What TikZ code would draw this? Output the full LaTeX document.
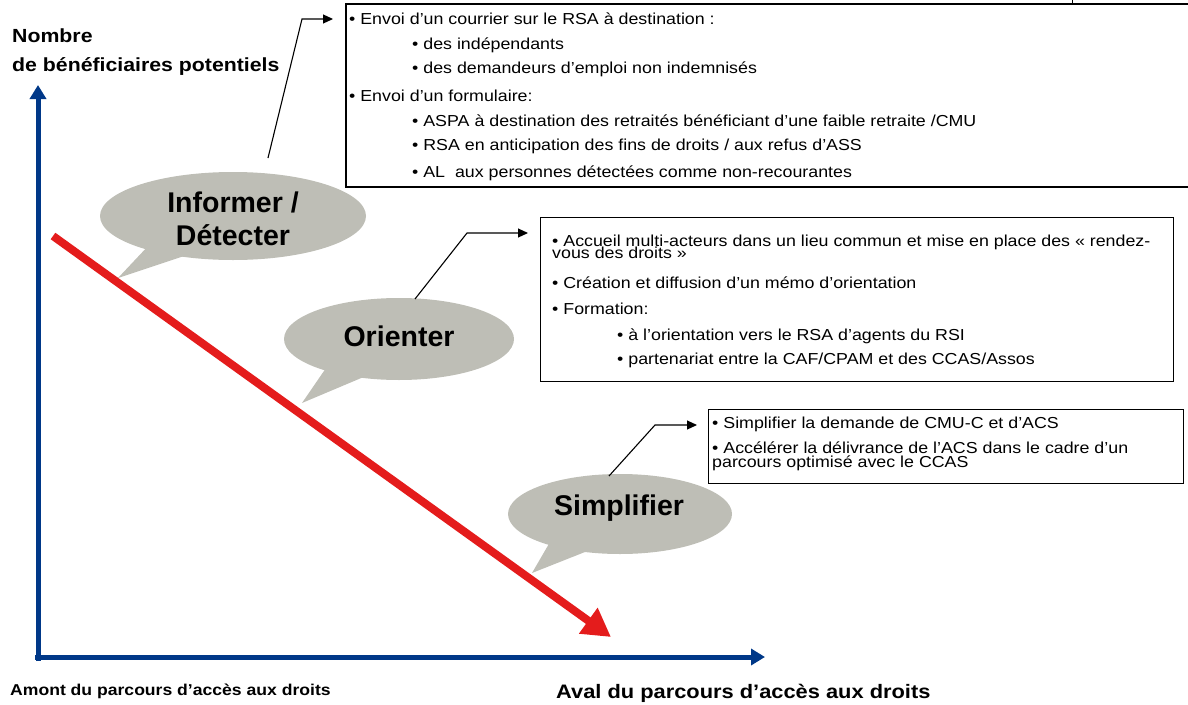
\documentclass[tikz,border=0pt]{standalone}
\usepackage{fontspec}
\setmainfont{Liberation Sans}
\newfontfamily\bxfont[FakeStretch=1.12]{Liberation Sans}
\usetikzlibrary{arrows.meta}
\definecolor{axisblue}{RGB}{0,56,136}
\definecolor{redarrow}{RGB}{228,28,28}
\definecolor{bubblegray}{RGB}{190,190,182}
\begin{document}
\begin{tikzpicture}[x=1pt,y=-1pt,
  axis/.style={draw=axisblue, line width=5pt, -{Triangle[width=16pt,length=14pt]}},
  trend/.style={draw=redarrow, line width=8pt, -{Triangle[width=30pt,length=28pt]}},
  bubble/.style={fill=bubblegray},
  bubbletext/.style={font=\fontsize{28.5}{33}\selectfont\bfseries, align=center, inner sep=0pt},
  infobox/.style={draw=black, line width=1.5pt, anchor=north west, inner sep=0pt},
  boxline/.style={font=\bxfont\fontsize{15.9}{18}\selectfont, anchor=base west, inner sep=0pt},
  callout/.style={draw=black, line width=1.1pt, -{Triangle[width=9pt,length=10pt]}},
  axislabel/.style={font=\bfseries, anchor=base west, inner sep=0pt}
]
\useasboundingbox (0,0) rectangle (1188,704);

% axes
\coordinate (ybase) at (38,661);
\coordinate (ytip) at (38,85);
\coordinate (xbase) at (35,657);
\coordinate (xtip) at (765,657);
\draw[axis] (ybase) -- (ytip);
\draw[axis] (xbase) -- (xtip);

% axis labels
\node[axislabel, font=\bxfont\bfseries\fontsize{19}{24}\selectfont] (ylab1) at (12,42) {Nombre};
\node[axislabel, font=\bxfont\bfseries\fontsize{19}{24}\selectfont] (ylab2) at (12,71) {de bénéficiaires potentiels};
\node[axislabel, font=\bxfont\bfseries\fontsize{15.7}{20}\selectfont] (xlab1) at (10,695) {Amont du parcours d’accès aux droits};
\node[axislabel, font=\bxfont\bfseries\fontsize{19.5}{24}\selectfont] (xlab2) at (556,698) {Aval du parcours d’accès aux droits};

% red trend arrow
\coordinate (rstart) at (53,236);
\coordinate (rtip) at (611,637);
\draw[trend] (rstart) -- (rtip);

% bubble 1
\fill[bubble] (233,216) ellipse [x radius=133, y radius=44];
\fill[bubble] (118,278) -- (150,244) -- (196,252) -- cycle;
\node[bubbletext] (b1) at (233,219) {Informer /\\Détecter};

% bubble 2
\fill[bubble] (399,339) ellipse [x radius=115, y radius=41];
\fill[bubble] (302,403) -- (326,368) -- (366,376) -- cycle;
\node[bubbletext] (b2) at (399,336) {Orienter};

% bubble 3
\fill[bubble] (620,514) ellipse [x radius=112, y radius=40];
\fill[bubble] (532,573) -- (550,542) -- (590,550) -- cycle;
\node[bubbletext] (b3) at (619,508) {Simplifier};

% box 1
\node[infobox, minimum width=846pt, minimum height=183pt] (box1) at (345,3) {};
\draw[line width=1pt] (1072,0) -- (1072,3);
\node[boxline] (l11) at (349,24) {• Envoi d’un courrier sur le RSA à destination :};
\node[boxline] (l12) at (412,49) {• des indépendants};
\node[boxline] (l13) at (412,73) {• des demandeurs d’emploi non indemnisés};
\node[boxline] (l14) at (349,101) {• Envoi d’un formulaire:};
\node[boxline] (l15) at (412,126) {• ASPA à destination des retraités bénéficiant d’une faible retraite /CMU};
\node[boxline] (l16) at (412,150) {• RSA en anticipation des fins de droits / aux refus d’ASS};
\node[boxline] (l17) at (412,177) {• AL\ \ aux personnes détectées comme non-recourantes};

% box 2
\node[infobox, line width=1.2pt, minimum width=633pt, minimum height=164pt] (box2) at (540,217) {};
\node[boxline] (l21) at (552,246) {• Accueil multi-acteurs dans un lieu commun et mise en place des «\ rendez-};
\node[boxline] (l22) at (552,258.5) {vous des droits\ »};
\node[boxline] (l23) at (552,288) {• Création et diffusion d’un mémo d’orientation};
\node[boxline] (l24) at (552,314) {• Formation:};
\node[boxline] (l25) at (617,340) {• à l’orientation vers le RSA d’agents du RSI};
\node[boxline] (l26) at (617,364) {• partenariat entre la CAF/CPAM et des CCAS/Assos};

% box 3
\node[infobox, line width=1.2pt, minimum width=475pt, minimum height=74pt] (box3) at (708,409) {};
\node[boxline] (l31) at (712,428) {• Simplifier la demande de CMU-C et d’ACS};
\node[boxline] (l32) at (712,453) {• Accélérer la délivrance de l’ACS dans le cadre d’un};
\node[boxline] (l33) at (712,467.5) {parcours optimisé avec le CCAS};

% callouts
\coordinate (c1s) at (268,158);
\coordinate (c1m) at (302,19);
\coordinate (c1e) at (333,19);
\draw[callout] (c1s) -- (c1m) -- (c1e);
\coordinate (c2s) at (415,299);
\coordinate (c2m) at (467,233);
\coordinate (c2e) at (528,233);
\draw[callout] (c2s) -- (c2m) -- (c2e);
\coordinate (c3s) at (609,476);
\coordinate (c3m) at (655,425);
\coordinate (c3e) at (697,425);
\draw[callout] (c3s) -- (c3m) -- (c3e);
\end{tikzpicture}
\end{document}
